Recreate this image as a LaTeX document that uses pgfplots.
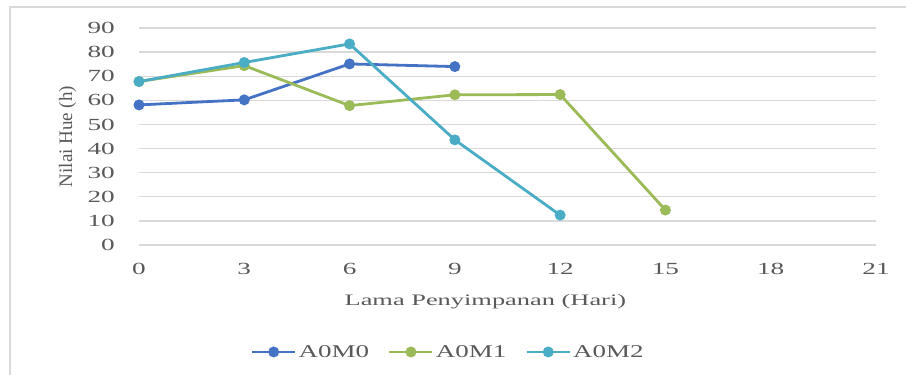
\documentclass[border=0pt]{standalone}
\usepackage{fontspec}
\setmainfont{Liberation Serif}
\usepackage{graphicx}
\usepackage{pgfplots}
\pgfplotsset{compat=1.18}

\definecolor{cMzero}{HTML}{4472C4}
\definecolor{cMone}{HTML}{9BBB59}
\definecolor{cMtwo}{HTML}{4BACC6}
\definecolor{gridc}{HTML}{D9D9D9}
\definecolor{textc}{HTML}{595959}

% Hue values over storage time (days)
\pgfplotstableread{
x y
0 58.1
3 60.2
6 75.1
9 74.0
}\tblMzero
\pgfplotstableread{
x y
0 67.8
3 74.4
6 57.8
9 62.3
12 62.4
15 14.5
}\tblMone
\pgfplotstableread{
x y
0 67.8
3 75.7
6 83.4
9 43.6
12 12.4
}\tblMtwo

\begin{document}
\begin{tikzpicture}
\path[use as bounding box] (0pt,0pt) rectangle (906pt,375pt);
\draw[gridc, line width=1.3pt] (10pt,0pt) -- (10pt,368pt) -- (906pt,368pt);
\begin{axis}[
  at={(139pt,130pt)}, anchor=south west,
  scale only axis, width=737pt, height=217pt,
  xmin=0, xmax=21, ymin=0, ymax=90,
  xtick={0,3,...,21}, ytick={0,10,...,90},
  axis line style={draw=none},
  major tick length=0pt,
  ymajorgrids, grid style={gridc, line width=1.3pt},
  clip=false,
  font=\fontsize{17}{20}\selectfont,
  /pgf/number format/assume math mode=true,
  xticklabel={\scalebox{1.6}[1]{\pgfmathprintnumber{\tick}}},
  yticklabel={\scalebox{1.6}[1]{\pgfmathprintnumber{\tick}}},
  xticklabel style={anchor=north, inner sep=0pt, yshift=-18pt, text=textc},
  yticklabel style={anchor=east, inner sep=0pt, xshift=-24pt, text=textc},
  xlabel={\scalebox{1.65}[1]{Lama Penyimpanan (Hari)}},
  xlabel style={at={(axis description cs:0.47,-0.26)}, anchor=center, inner sep=0pt, text=textc, font=\fontsize{16}{19}\selectfont},
  ylabel={Nilai Hue (h)},
  ylabel style={at={(axis description cs:-0.097,0.5)}, anchor=center, inner sep=0pt, text=textc, font=\fontsize{19}{22}\selectfont},
  legend columns=3,
  legend style={at={(axis description cs:0.4196,-0.493)}, anchor=center,
    draw=none, fill=none, inner sep=0pt, text=textc,
    font=\fontsize{18}{21}\selectfont,
    /tikz/every even column/.append style={column sep=17pt}},
  legend image code/.code={%
    \draw[mark repeat=2, mark phase=2] plot coordinates {(0pt,0pt) (21.5pt,0pt) (43pt,0pt)};},
  every axis plot/.append style={line width=2.8pt, mark=*, mark size=4pt},
]
\addplot[cMzero, mark options={fill=cMzero}] table {\tblMzero};
\addlegendentry{\scalebox{1.5}[1]{A0M0}}
\addplot[cMone, mark options={fill=cMone}] table {\tblMone};
\addlegendentry{\scalebox{1.5}[1]{A0M1}}
\addplot[cMtwo, mark options={fill=cMtwo}] table {\tblMtwo};
\addlegendentry{\scalebox{1.5}[1]{A0M2}}
\end{axis}
\end{tikzpicture}
\end{document}
